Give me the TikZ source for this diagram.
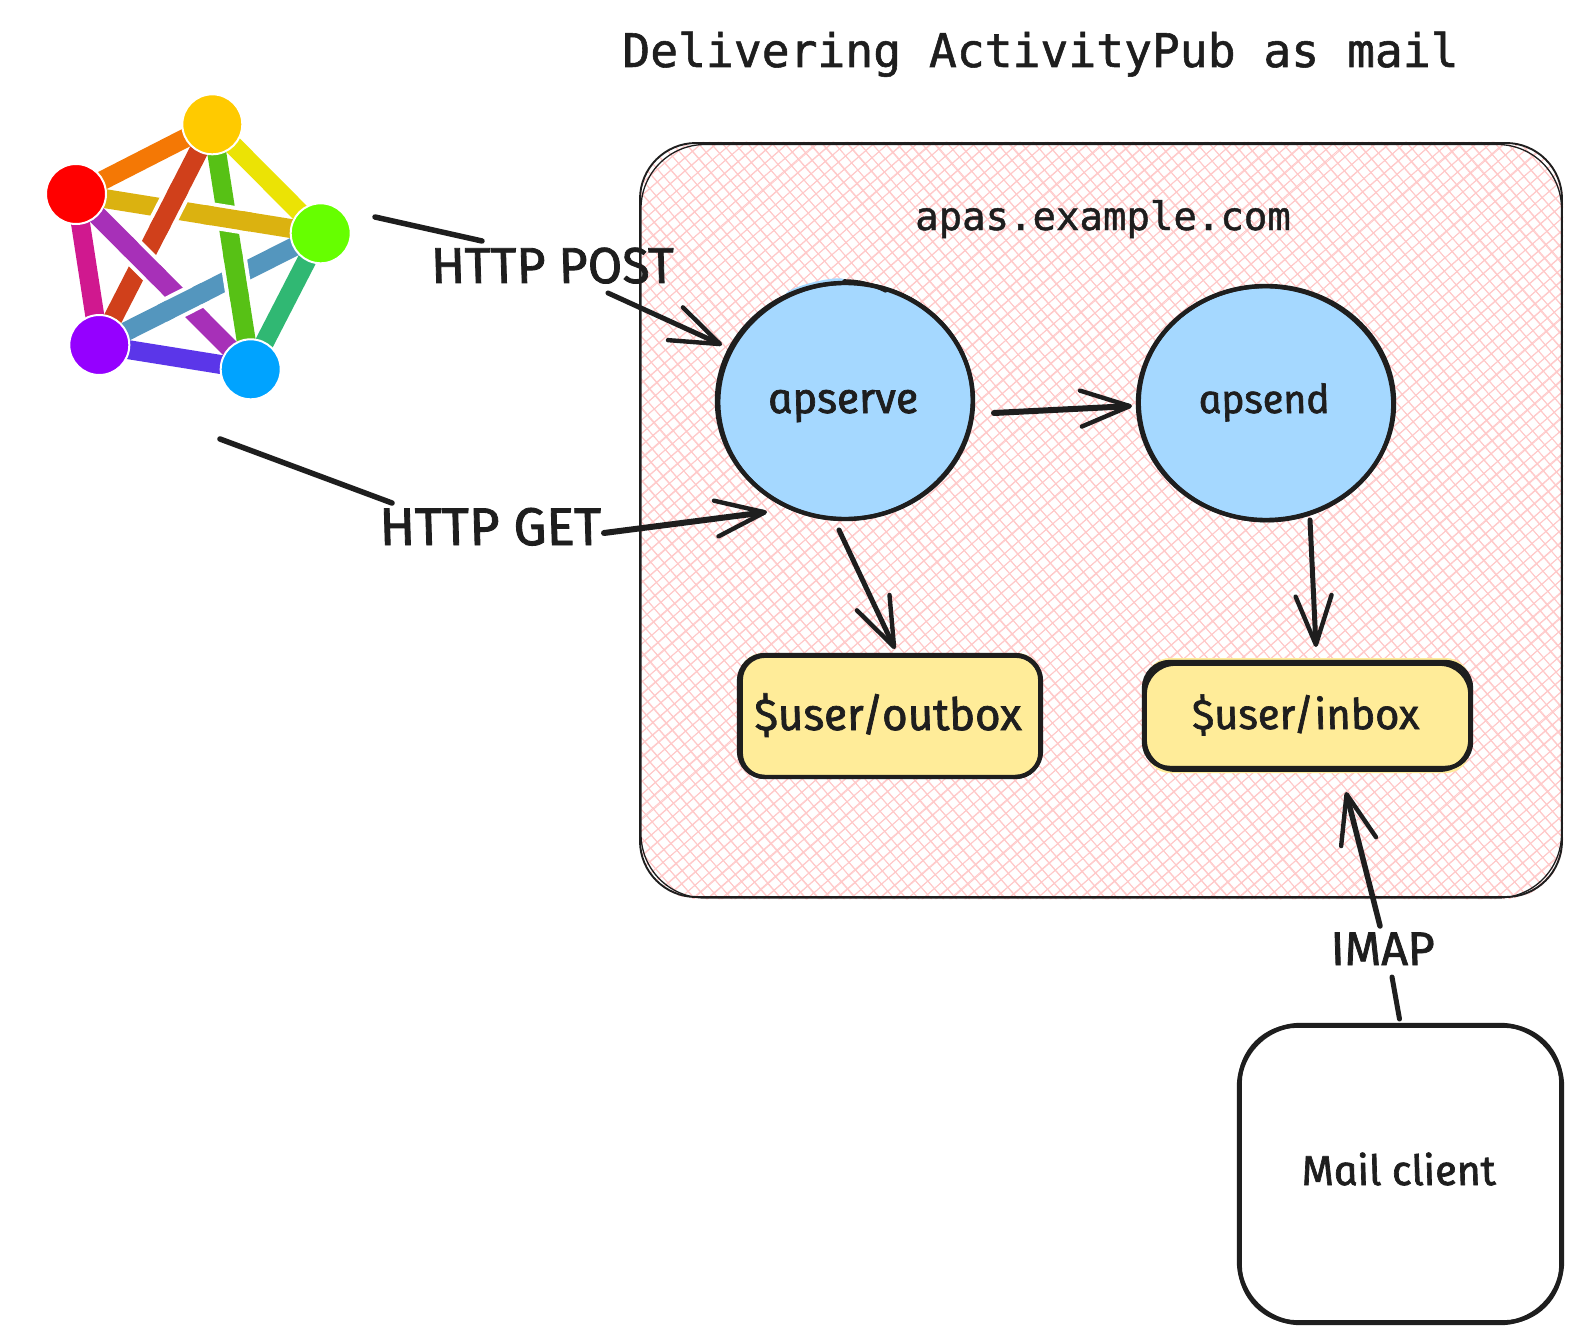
\documentclass[tikz,border=0pt]{standalone}
\usepackage{fontspec}
\usepackage{graphicx}
\usetikzlibrary{shapes.geometric,arrows.meta,calc}
\newfontfamily\monofam{DejaVu Sans Mono}[FakeBold=1.2]
\newfontfamily\handfam{Fira Sans}[ItalicFeatures={FakeSlant=-0.17,FakeBold=1.6}]
\definecolor{ink}{HTML}{1E1E1E}
\definecolor{hatchpink}{HTML}{FFC9C9}
\definecolor{bubble}{HTML}{A5D8FF}
\definecolor{note}{HTML}{FFEC99}
\definecolor{fOrange}{HTML}{F47805}
\definecolor{fYellow}{HTML}{EBE305}
\definecolor{fTeal}{HTML}{30B873}
\definecolor{fIndigo}{HTML}{5B36E9}
\definecolor{fMagenta}{HTML}{D0188F}
\definecolor{fGold}{HTML}{DBB210}
\definecolor{fGreen}{HTML}{57C115}
\definecolor{fSteel}{HTML}{5496BE}
\definecolor{fViolet}{HTML}{A730B8}
\definecolor{fRust}{HTML}{D0401B}
\definecolor{nodeY}{HTML}{FFCA00}
\definecolor{nodeR}{HTML}{FF0000}
\definecolor{nodeG}{HTML}{66FF00}
\definecolor{nodeP}{HTML}{9500FF}
\definecolor{nodeB}{HTML}{00A3FF}
\newcommand{\fitw}[2]{\resizebox{#1}{!}{\handfam\itshape\fontsize{40}{44}\selectfont #2}}
\newcommand{\overband}[4]{%
  \draw[white,line width=27pt] ($(#1)!15pt!(#2)$) -- ($(#1)!15pt!(#3)$);
  \draw[#4,line width=19pt] ($(#1)!24pt!(#2)$) -- ($(#1)!24pt!(#3)$);}
\tikzset{
  skline/.style={ink,line width=5pt,line cap=round,line join=round},
  skarrow/.style={skline,-{Straight Barb[length=49pt,width=36pt,line width=4.4pt,round]}},
  skstroke/.style={ink,line width=3.8pt,line cap=round,line join=round},
  blob/.style={ellipse,fill=bubble,draw=ink,line width=4.4pt,inner sep=0pt,text=ink},
  mailbox/.style={rectangle,fill=note,draw=ink,line width=4.4pt,rounded corners=26pt,inner sep=0pt,text=ink},
  client/.style={rectangle,draw=ink,line width=4.4pt,rounded corners=62pt,inner sep=0pt,text=ink},
  edgelabel/.style={inner sep=0pt,text=ink,text depth=6pt},
  fedi/.style={circle,draw=white,line width=2pt,minimum size=60pt,inner sep=0pt},
  band/.style={line width=19pt},
  headline/.style={inner sep=0pt,text=ink,font=\monofam\fontsize{46.3}{50}\selectfont},
  subline/.style={inner sep=0pt,text=ink,font=\monofam\fontsize{39}{44}\selectfont},
}
\begin{document}
\begin{tikzpicture}[x=1pt,y=-1pt]
\useasboundingbox (0,0) rectangle (1582,1343);
\fill[white] (0,0) rectangle (1582,1343);

% hatching of the server area
\begin{scope}
  \clip[rounded corners=58pt] (640,142) rectangle (1563,899);
  \pgfmathsetseed{7}
  \foreach \ang in {41,-49}{
    \begin{scope}[shift={(1100,520)},rotate=\ang]
      \foreach \i in {-85,...,85}{
        \pgfmathsetmacro\ya{\i*9.4+0.8*rand}
        \pgfmathsetmacro\yb{\i*9.4+0.8*rand}
        \pgfmathsetmacro\yc{\i*9.4+0.8*rand}
        \pgfmathsetmacro\yd{\i*9.4+0.8*rand}
        \draw[hatchpink,line width=0.9pt] (-800,\ya) -- (800,\yb);
        \draw[hatchpink,line width=0.8pt] (-800,\yc) -- (800,\yd);
      }
    \end{scope}
  }
\end{scope}
\draw[ink,line width=1.9pt,rounded corners=56pt] (640,143) rectangle (1562,897);
\draw[ink,line width=1.3pt,rounded corners=64pt] (641,144.5) rectangle (1561.5,898);

% Fediverse logo
\coordinate (cY) at (212.3,124.3);
\coordinate (cR) at (76,194);
\coordinate (cG) at (320.7,233.3);
\coordinate (cP) at (99.3,345);
\coordinate (cB) at (250.7,369.3);
\draw[band,fOrange] (cR)--(cY);
\draw[band,fYellow] (cY)--(cG);
\draw[band,fTeal] (cG)--(cB);
\draw[band,fIndigo] (cB)--(cP);
\draw[band,fMagenta] (cP)--(cR);
\draw[band,fGold] (cR)--(cG);
\draw[band,fGreen] (cY)--(cB);
\draw[band,fSteel] (cP)--(cG);
\draw[band,fViolet] (cR)--(cB);
\draw[band,fRust] (cY)--(cP);
\coordinate (xA) at (intersection of cY--cP and cR--cG);
\coordinate (xB) at (intersection of cR--cG and cY--cB);
\coordinate (xC) at (intersection of cY--cB and cP--cG);
\coordinate (xD) at (intersection of cP--cG and cR--cB);
\coordinate (xE) at (intersection of cR--cB and cY--cP);
\overband{xA}{cY}{cP}{fRust}
\overband{xB}{cR}{cG}{fGold}
\overband{xC}{cY}{cB}{fGreen}
\overband{xD}{cP}{cG}{fSteel}
\overband{xE}{cR}{cB}{fViolet}
\node[fedi,fill=nodeY] (nY) at (cY) {};
\node[fedi,fill=nodeR] (nR) at (cR) {};
\node[fedi,fill=nodeG] (nG) at (cG) {};
\node[fedi,fill=nodeP] (nP) at (cP) {};
\node[fedi,fill=nodeB] (nB) at (cB) {};

% titles
\node[headline,anchor=base] (title) at (1040.5,67) {Delivering ActivityPub as mail};
\node[subline,anchor=base] (host) at (1103,230) {apas.example.com};

% nodes
\fill[bubble,rotate around={14:(815,287)}] (815,287) ellipse[x radius=30pt,y radius=5pt];
\node[blob,minimum width=256pt,minimum height=236pt,text depth=6pt,text height=30pt] (apserve) at (845,401) {\fitw{150pt}{apserve}};
\draw[skstroke] (845.5,401) ellipse[x radius=127pt,y radius=118pt,rotate=4];
\draw[ink,line width=3.6pt,line cap=round] (844,281) .. controls (858,281) and (872,284) .. (886,291);
\node[blob,minimum width=256pt,minimum height=234pt,text depth=6pt,text height=26pt] (apsend) at (1266,403) {\fitw{131pt}{apsend}};
\draw[skstroke] (1266,403.5) ellipse[x radius=127pt,y radius=117pt,rotate=-3];
\fill[note,rounded corners=24pt] (739,653) rectangle (1041,778);
\node[mailbox,minimum width=302pt,minimum height=122pt,text depth=6pt,text height=34pt] (outbox) at (890,716) {\fitw{267pt}{\$user/outbox}};
\draw[skstroke,rounded corners=24pt] (741,656) rectangle (1040,777);
\fill[note,rounded corners=24pt] (1146,658) rectangle (1470,773);
\node[mailbox,minimum width=327pt,minimum height=106pt,text depth=6pt,text height=34pt] (inbox) at (1307.5,715) {\fitw{227pt}{\$user/inbox}};
\draw[skstroke,rounded corners=30pt] (1145,664) rectangle (1470,770);
\node[client,minimum width=323pt,minimum height=298pt,text depth=6pt,text height=28pt] (mail) at (1400.5,1174) {\fitw{194pt}{Mail client}};
\draw[skstroke,rounded corners=56pt] (1240,1026) rectangle (1561,1322);

% edge labels
\node[edgelabel,text height=42pt] (post) at (555,265) {\fitw{243pt}{HTTP POST}};
\node[edgelabel,text height=42pt] (get) at (493,527) {\fitw{222pt}{HTTP GET}};
\node[edgelabel,text height=38pt] (imap) at (1385,949) {\fitw{104pt}{IMAP}};

% connectors
\coordinate (postfrom) at (375,217);
\coordinate (getfrom) at (220,439);
\draw[skline,line width=5.5pt] (postfrom) -- ([shift={(-73,-24)}]post.center);
\draw[skarrow] ([shift={(53,28)}]post.center) -- ([shift={(-123,-56)}]apserve.center);
\draw[skline,line width=5.5pt] (getfrom) -- ([shift={(-101,-24)}]get.center);
\draw[skarrow,line width=6pt] ([shift={(111,6)}]get.center) -- ([shift={(-78,111)}]apserve.center);
\draw[skarrow,line width=6pt] ([shift={(149,12)}]apserve.center) -- ([shift={(-134,3)}]apsend.center);
\draw[skarrow] ([shift={(-6,129)}]apserve.center) -- ([shift={(5,-67)}]outbox.center);
\draw[skarrow] ([shift={(44,117)}]apsend.center) -- ([shift={(8.5,-68)}]inbox.center);
\draw[skarrow,line width=5.5pt] ([shift={(-5,-23)}]imap.center) -- ([shift={(38.5,77)}]inbox.center);
\draw[skline] ([shift={(-1,-155)}]mail.center) -- ([shift={(7,28)}]imap.center);
\end{tikzpicture}
\end{document}
